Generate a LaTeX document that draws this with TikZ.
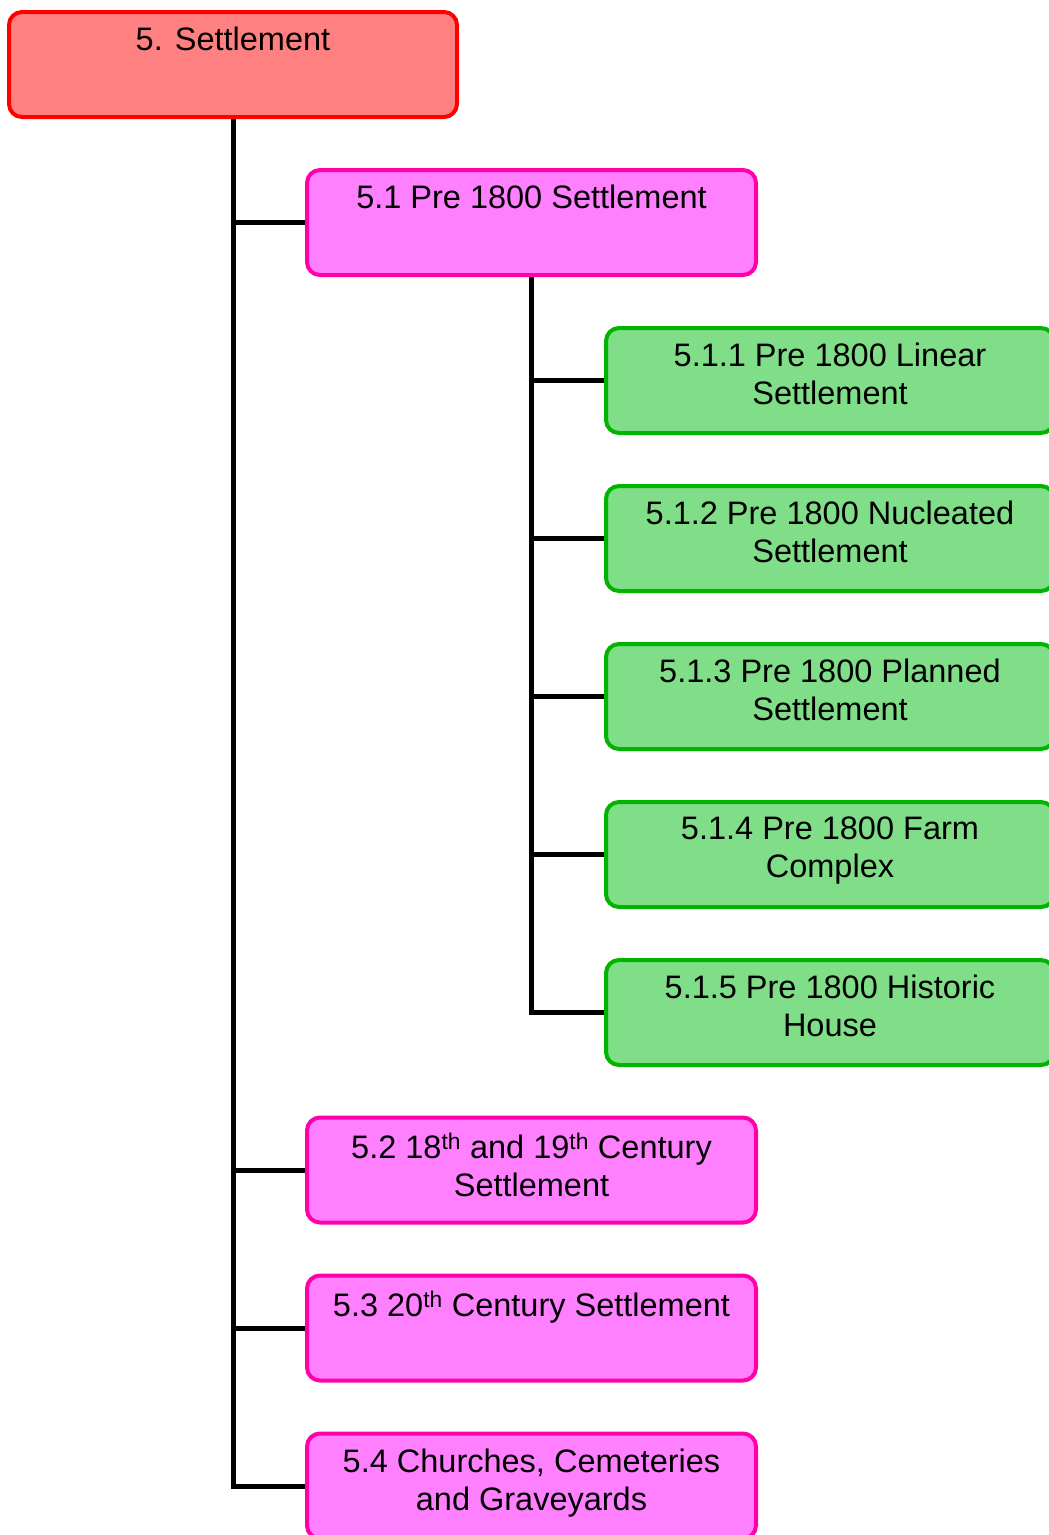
\documentclass[tikz,border=0pt]{standalone}
\usepackage{fontspec}
\setmainfont{Liberation Sans}
\usetikzlibrary{backgrounds}
\definecolor{rootfill}{HTML}{FF8080}
\definecolor{rootline}{HTML}{FF0000}
\definecolor{pinkfill}{HTML}{FF80FF}
\definecolor{pinkline}{HTML}{FF00AA}
\definecolor{greenfill}{HTML}{80DD88}
\definecolor{greenline}{HTML}{00B400}
\begin{document}
\begin{tikzpicture}[x=1pt,y=-1pt,
  box/.style={rounded corners=13pt, line width=4pt, inner sep=0pt, minimum height=105pt},
  rootbox/.style={box, draw=rootline, fill=rootfill, minimum width=448pt},
  pinkbox/.style={box, draw=pinkline, fill=pinkfill, minimum width=449pt},
  greenbox/.style={box, draw=greenline, fill=greenfill, minimum width=448pt},
  label/.style={anchor=north, inner sep=0pt, align=center, font=\fontsize{32.5}{38}\selectfont},
  conn/.style={line width=5pt}]
\useasboundingbox (0,0) rectangle (1049,1535);
% boxes (centers)
\node[rootbox]  (root) at (233,64.5) {};
\node[pinkbox]  (s51)  at (531.5,222.5) {};
\node[greenbox] (s511) at (830,380.5) {};
\node[greenbox] (s512) at (830,538.5) {};
\node[greenbox] (s513) at (830,696.5) {};
\node[greenbox] (s514) at (830,854.5) {};
\node[greenbox] (s515) at (830,1012.5) {};
\node[pinkbox]  (s52)  at (531.5,1170) {};
\node[pinkbox]  (s53)  at (531.5,1328) {};
\node[pinkbox]  (s54)  at (531.5,1486) {};
% labels
\node[label] (t5)   at ([yshift=-17pt]root.north)  {5. Settlement};
\node[label] (t51)  at ([yshift=-17pt]s51.north)   {5.1 Pre 1800 Settlement};
\node[label] (t511) at ([yshift=-17pt]s511.north)  {5.1.1 Pre 1800 Linear\\Settlement};
\node[label] (t512) at ([yshift=-17pt]s512.north)  {5.1.2 Pre 1800 Nucleated\\Settlement};
\node[label] (t513) at ([yshift=-17pt]s513.north)  {5.1.3 Pre 1800 Planned\\Settlement};
\node[label] (t514) at ([yshift=-17pt]s514.north)  {5.1.4 Pre 1800 Farm\\Complex};
\node[label] (t515) at ([yshift=-17pt]s515.north)  {5.1.5 Pre 1800 Historic\\House};
\node[label] (t52)  at ([yshift=-17pt]s52.north)   {5.2 18\textsuperscript{th} and 19\textsuperscript{th} Century\\Settlement};
\node[label] (t53)  at ([yshift=-17pt]s53.north)   {5.3 20\textsuperscript{th} Century Settlement};
\node[label] (t54)  at ([yshift=-17pt]s54.north)   {5.4 Churches, Cemeteries\\and Graveyards};
% connectors, behind the boxes
\begin{scope}[on background layer]
\draw[conn] (root.south) |- (s54.west);
\draw[conn] (root.south |- s51.west) -- (s51.west);
\draw[conn] (root.south |- s52.west) -- (s52.west);
\draw[conn] (root.south |- s53.west) -- (s53.west);
\draw[conn] (s51.south) |- (s515.west);
\draw[conn] (s51.south |- s511.west) -- (s511.west);
\draw[conn] (s51.south |- s512.west) -- (s512.west);
\draw[conn] (s51.south |- s513.west) -- (s513.west);
\draw[conn] (s51.south |- s514.west) -- (s514.west);
\end{scope}
\end{tikzpicture}
\end{document}
